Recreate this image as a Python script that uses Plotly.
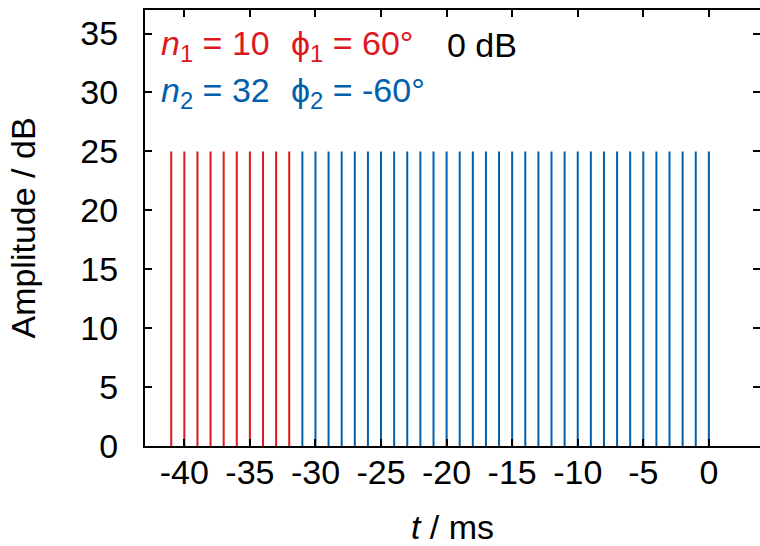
import plotly.graph_objects as go

# ---- data ----
red_times = [-41, -40, -39, -38, -37, -36, -35, -34, -33, -32]
blue_times = [-31, -30, -29, -28, -27, -26, -25, -24, -23, -22, -21, -20, -19, -18, -17, -16,
              -15, -14, -13, -12, -11, -10, -9, -8, -7, -6, -5, -4, -3, -2, -1, 0]
red_amp = [25] * len(red_times)
blue_amp = [25] * len(blue_times)
x_ticks = [-40, -35, -30, -25, -20, -15, -10, -5, 0]
x_tick_labels = ["-40", "-35", "-30", "-25", "-20", "-15", "-10", "-5", "0"]
y_ticks = [0, 5, 10, 15, 20, 25, 30, 35]
y_tick_labels = ["0", "5", "10", "15", "20", "25", "30", "35"]

RED = "#dd181f"
BLUE = "#0060ad"
FONT = "Liberation Sans, Arial, sans-serif"
FS = 34


def stems(ts, amps):
    xs, ys = [], []
    for t, a in zip(ts, amps):
        xs += [t, t, None]
        ys += [0, a, None]
    return xs, ys


fig = go.Figure()
rx, ry = stems(red_times, red_amp)
bx, by = stems(blue_times, blue_amp)
fig.add_trace(go.Scatter(x=rx, y=ry, mode="lines", line=dict(color=RED, width=2),
                         showlegend=False, hoverinfo="skip"))
fig.add_trace(go.Scatter(x=bx, y=by, mode="lines", line=dict(color=BLUE, width=2),
                         showlegend=False, hoverinfo="skip"))
# invisible trace to attach right axis (mirror ticks only)
fig.add_trace(go.Scatter(x=[None], y=[None], yaxis="y2", showlegend=False, hoverinfo="skip"))

fig.update_layout(
    width=760, height=546,
    margin=dict(l=145, r=0, t=10, b=100),
    paper_bgcolor="white", plot_bgcolor="white",
    font=dict(family=FONT, size=FS, color="black"),
    xaxis=dict(range=[-43, 3.9], tickvals=x_ticks, ticktext=x_tick_labels,
               ticks="inside", ticklen=7, tickwidth=2,
               tickcolor="black", showline=True, linecolor="black", linewidth=2,
               mirror="ticks", showgrid=False, zeroline=False, automargin=False,
               tickfont=dict(size=FS), ticklabelstandoff=-5,
               title=dict(text="<i>t</i> / ms", font=dict(size=FS), standoff=26)),
    yaxis=dict(range=[0, 37], tickvals=y_ticks, ticktext=y_tick_labels,
               ticks="inside", ticklen=7, tickwidth=2,
               tickcolor="black", showline=True, linecolor="black", linewidth=2,
               mirror=False, showgrid=False, zeroline=False, automargin=False,
               tickfont=dict(size=FS), ticklabelstandoff=18,
               title=dict(text="Amplitude / dB", font=dict(size=FS), standoff=34)),
    yaxis2=dict(range=[0, 37], tickvals=y_ticks, overlaying="y", side="right",
                ticks="inside", ticklen=7, tickwidth=2, tickcolor="black",
                showline=False, showticklabels=False, showgrid=False, zeroline=False,
                automargin=False),
)

ann = [
    ("<i>n</i><sub>1</sub> = 10", -41.9, 34.0, RED),
    ("ϕ<sub>1</sub> = 60°", -32.05, 34.0, RED),
    ("0 dB", -20.1, 34.0, "black"),
    ("<i>n</i><sub>2</sub> = 32", -41.9, 30.0, BLUE),
    ("ϕ<sub>2</sub> = -60°", -32.05, 30.0, BLUE),
]
for text, x, y, c in ann:
    fig.add_annotation(text=text, x=x, y=y, xref="x", yref="y", xanchor="left",
                       yanchor="middle", showarrow=False,
                       font=dict(family=FONT, size=FS, color=c))

fig.write_html("out.html", config={"displayModeBar": False},
               post_script="document.body.style.margin='0';document.body.style.overflow='hidden';")
